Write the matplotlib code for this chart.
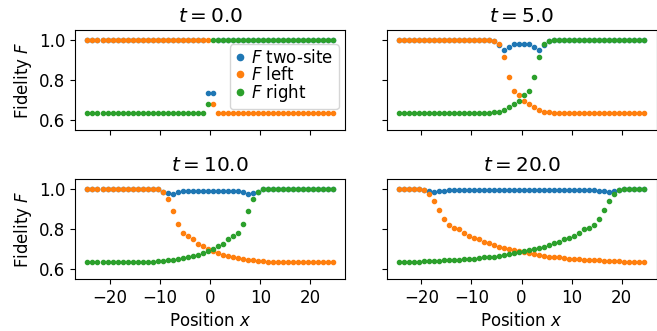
import numpy as np
import matplotlib
matplotlib.use("Agg")
import matplotlib.pyplot as plt

plt.rcParams['font.size'] = 12

positions = np.arange(-24.5, 25.0, 1.0)
times = ["0.0", "5.0", "10.0", "20.0"]

# t = 0
two_site_0 = [1.0]*24 + [0.732, 0.732] + [1.0]*24
left_0 = [1.0]*25 + [0.681] + [0.6366]*24
right_0 = [0.6366]*24 + [0.681] + [1.0]*25

# t = 5
two_site_5 = [1.0]*19 + [0.997, 0.975, 0.951, 0.963, 0.982, 0.978,
                         0.978, 0.982, 0.963, 0.951, 0.975, 0.997] + [1.0]*19
left_5 = [1.0]*19 + [0.997, 0.978, 0.913, 0.813, 0.744, 0.724,
                     0.694, 0.680, 0.664, 0.650, 0.641, 0.638] + [0.6366]*19
right_5 = [0.6366]*19 + [0.638, 0.641, 0.650, 0.664, 0.680, 0.694,
                         0.724, 0.744, 0.813, 0.913, 0.978, 0.997] + [1.0]*19

# t = 10
two_site_10 = [1.0]*15 + [0.988, 0.982, 0.974, 0.986, 0.991] + [0.991]*10 \
    + [0.991, 0.986, 0.974, 0.982, 0.988] + [1.0]*15
left_10 = [1.0]*15 + [0.988, 0.953, 0.892, 0.825, 0.782, 0.767, 0.748, 0.726,
                      0.714, 0.700, 0.692, 0.679, 0.672, 0.665, 0.659, 0.655,
                      0.650, 0.647, 0.643, 0.640, 0.638, 0.637] + [0.6366]*13
right_10 = [0.6366]*13 + [0.637, 0.638, 0.640, 0.643, 0.647, 0.650, 0.655,
                          0.659, 0.665, 0.672, 0.679, 0.692, 0.700, 0.714,
                          0.726, 0.748, 0.767, 0.782, 0.825, 0.892, 0.953,
                          0.988] + [1.0]*15

# t = 20
two_site_20 = [1.0]*5 + [0.997, 0.993, 0.988, 0.989, 0.993] + [0.996]*30 \
    + [0.993, 0.989, 0.988, 0.993, 0.997] + [1.0]*5
left_20 = [1.0]*5 + [0.995, 0.975, 0.942, 0.898, 0.852, 0.823, 0.807, 0.798,
                     0.782, 0.767, 0.757, 0.750, 0.737, 0.730, 0.720, 0.712,
                     0.707, 0.698, 0.695, 0.689, 0.684, 0.678, 0.675, 0.670,
                     0.665, 0.662, 0.660, 0.658, 0.655, 0.652, 0.650, 0.648,
                     0.647, 0.645, 0.644, 0.643, 0.642, 0.640, 0.638,
                     0.638] + [0.6366]*5
right_20 = [0.6366]*5 + [0.638, 0.638, 0.640, 0.642, 0.643, 0.644, 0.645,
                         0.647, 0.648, 0.650, 0.652, 0.655, 0.658, 0.660,
                         0.662, 0.665, 0.670, 0.675, 0.678, 0.684, 0.689,
                         0.695, 0.698, 0.707, 0.712, 0.720, 0.730, 0.737,
                         0.750, 0.757, 0.767, 0.782, 0.798, 0.807, 0.823,
                         0.852, 0.898, 0.942, 0.975, 0.995] + [1.0]*5

two_site = [two_site_0, two_site_5, two_site_10, two_site_20]
left = [left_0, left_5, left_10, left_20]
right = [right_0, right_5, right_10, right_20]

fig, axes = plt.subplots(2, 2, figsize=(6.57, 3.31), dpi=100,
                         sharex=True, sharey=True)
W, H = 657.0, 331.0
col_left = [75.2, 386.5]
col_w = 270.0
row_top = [30.0, 179.2]
row_h = 99.8

for k, ax in enumerate(axes.flat):
    r, c = divmod(k, 2)
    ax.set_position([col_left[c] / W, 1 - (row_top[r] + row_h) / H,
                     col_w / W, row_h / H])
    ax.plot(positions, two_site[k], '.', color='C0', label=r'$F$ two-site')
    ax.plot(positions, left[k], '.', color='C1', label=r'$F$ left')
    ax.plot(positions, right[k], '.', color='C2', label=r'$F$ right')
    ax.set_title(r'$t = %s$' % times[k], fontsize=14.4)
    ax.set_ylim(0.55, 1.05)
    ax.set_yticks([0.6, 0.8, 1.0])
    ax.set_xticks([-20, -10, 0, 10, 20])
    if c == 0:
        ax.set_ylabel(r'Fidelity $F$')
    if r == 1:
        ax.set_xlabel(r'Position $x$')

axes[0, 0].legend(loc='center right', bbox_to_anchor=(1.0, 0.533),
                  markerscale=1.5, handlelength=0.6, handletextpad=0.4,
                  borderpad=0.3, labelspacing=-0.1, borderaxespad=0.4)

fig.savefig('out.png', dpi=100)
